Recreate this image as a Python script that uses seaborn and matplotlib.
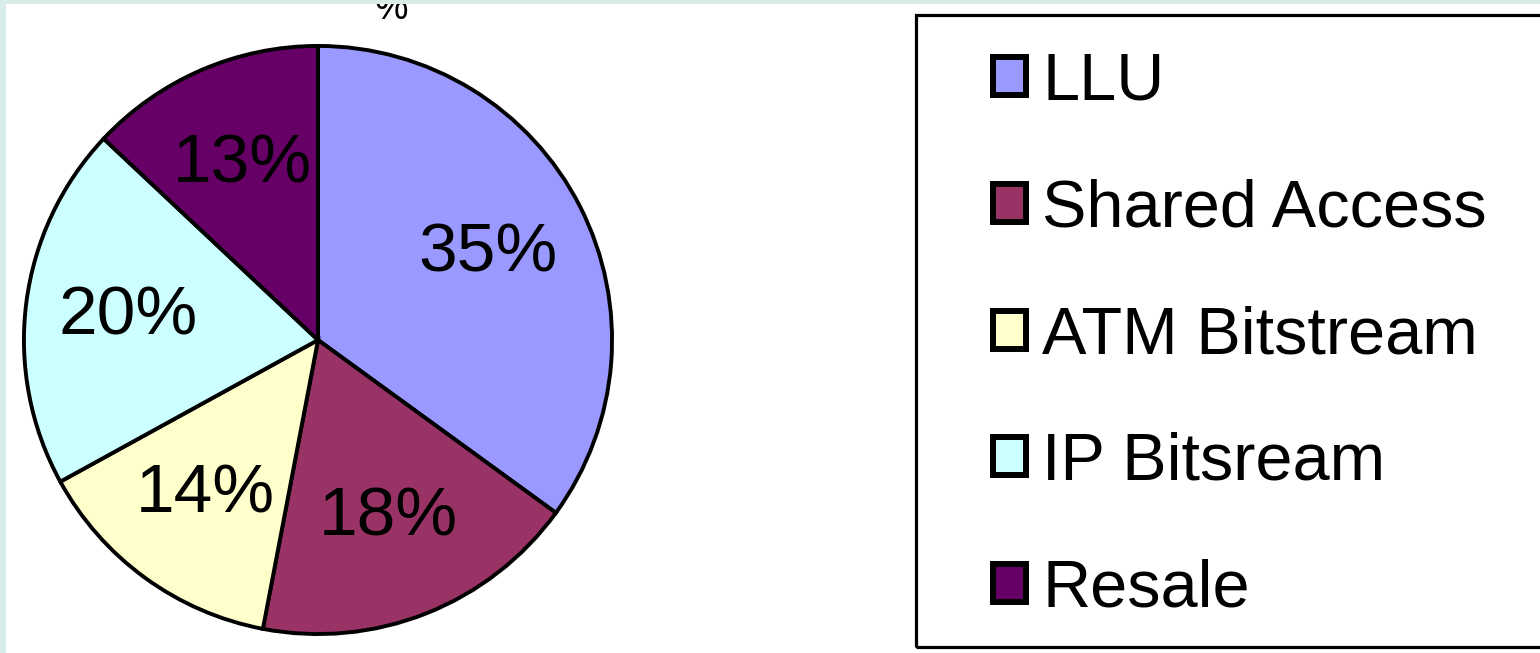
import matplotlib.pyplot as plt
import matplotlib.patches as mpatches
import seaborn as sns

categories = ["LLU", "Shared Access", "ATM Bitstream", "IP Bitsream", "Resale"]
shares = [35, 18, 14, 20, 13]
colors = ["#9999FF", "#993366", "#FFFFCC", "#CCFFFF", "#660066"]

sns.set_style("white")
plt.rcParams["font.family"] = ["Liberation Sans", "DejaVu Sans"]
plt.rcParams["text.color"] = "black"

W, H = 1540, 653
teal = "#D8ECEA"
fig = plt.figure(figsize=(W / 100, H / 100), dpi=100, facecolor="white")
# pale teal strips along the left and top edges
fig.patches.append(mpatches.Rectangle((0, 0), 6 / W, 1, transform=fig.transFigure,
                                      facecolor=teal, edgecolor="none", zorder=10))
fig.patches.append(mpatches.Rectangle((0, 1 - 4 / H), 1, 4 / H, transform=fig.transFigure,
                                      facecolor=teal, edgecolor="none", zorder=10))

# pie: centre (318, 340) px, radius 297 px
cx, cy, r = 318, 340, 297
ax = fig.add_axes([(cx - r) / W, (H - cy - r) / H, 2 * r / W, 2 * r / H])
wedges, texts, autotexts = ax.pie(
    shares, colors=colors, startangle=90, counterclock=False,
    autopct="%d%%", pctdistance=0.65,
    wedgeprops=dict(edgecolor="black", linewidth=2.8),
    textprops=dict(fontsize=50, color="black"),
)
ax.set_xlim(-1.01, 1.01)
ax.set_ylim(-1.01, 1.01)
ax.axis("off")

# cut-off title remnant at the top
fig.text(391 / W, 1 - 19 / H, "%", fontsize=27, ha="center", va="baseline", zorder=5)

# legend box (right side runs off the picture)
fig.patches.append(mpatches.Rectangle((916 / W, 1 - 647 / H), 0.6, (647 - 15) / H,
                                      transform=fig.transFigure, facecolor="none",
                                      edgecolor="black", linewidth=2.3, zorder=4))
leg = fig.legend(
    wedges, categories, loc="upper left",
    bbox_to_anchor=(993 / W, 1 - 52 / H),
    fontsize=48, frameon=False, borderaxespad=0, borderpad=0,
    handlelength=0.495, handleheight=0.495, handletextpad=0.24,
    labelspacing=0.97,
)
for h in leg.legend_handles:
    h.set_linewidth(4.3)
    h.set_edgecolor("black")

fig.savefig("out.png", dpi=100, facecolor=fig.get_facecolor())
